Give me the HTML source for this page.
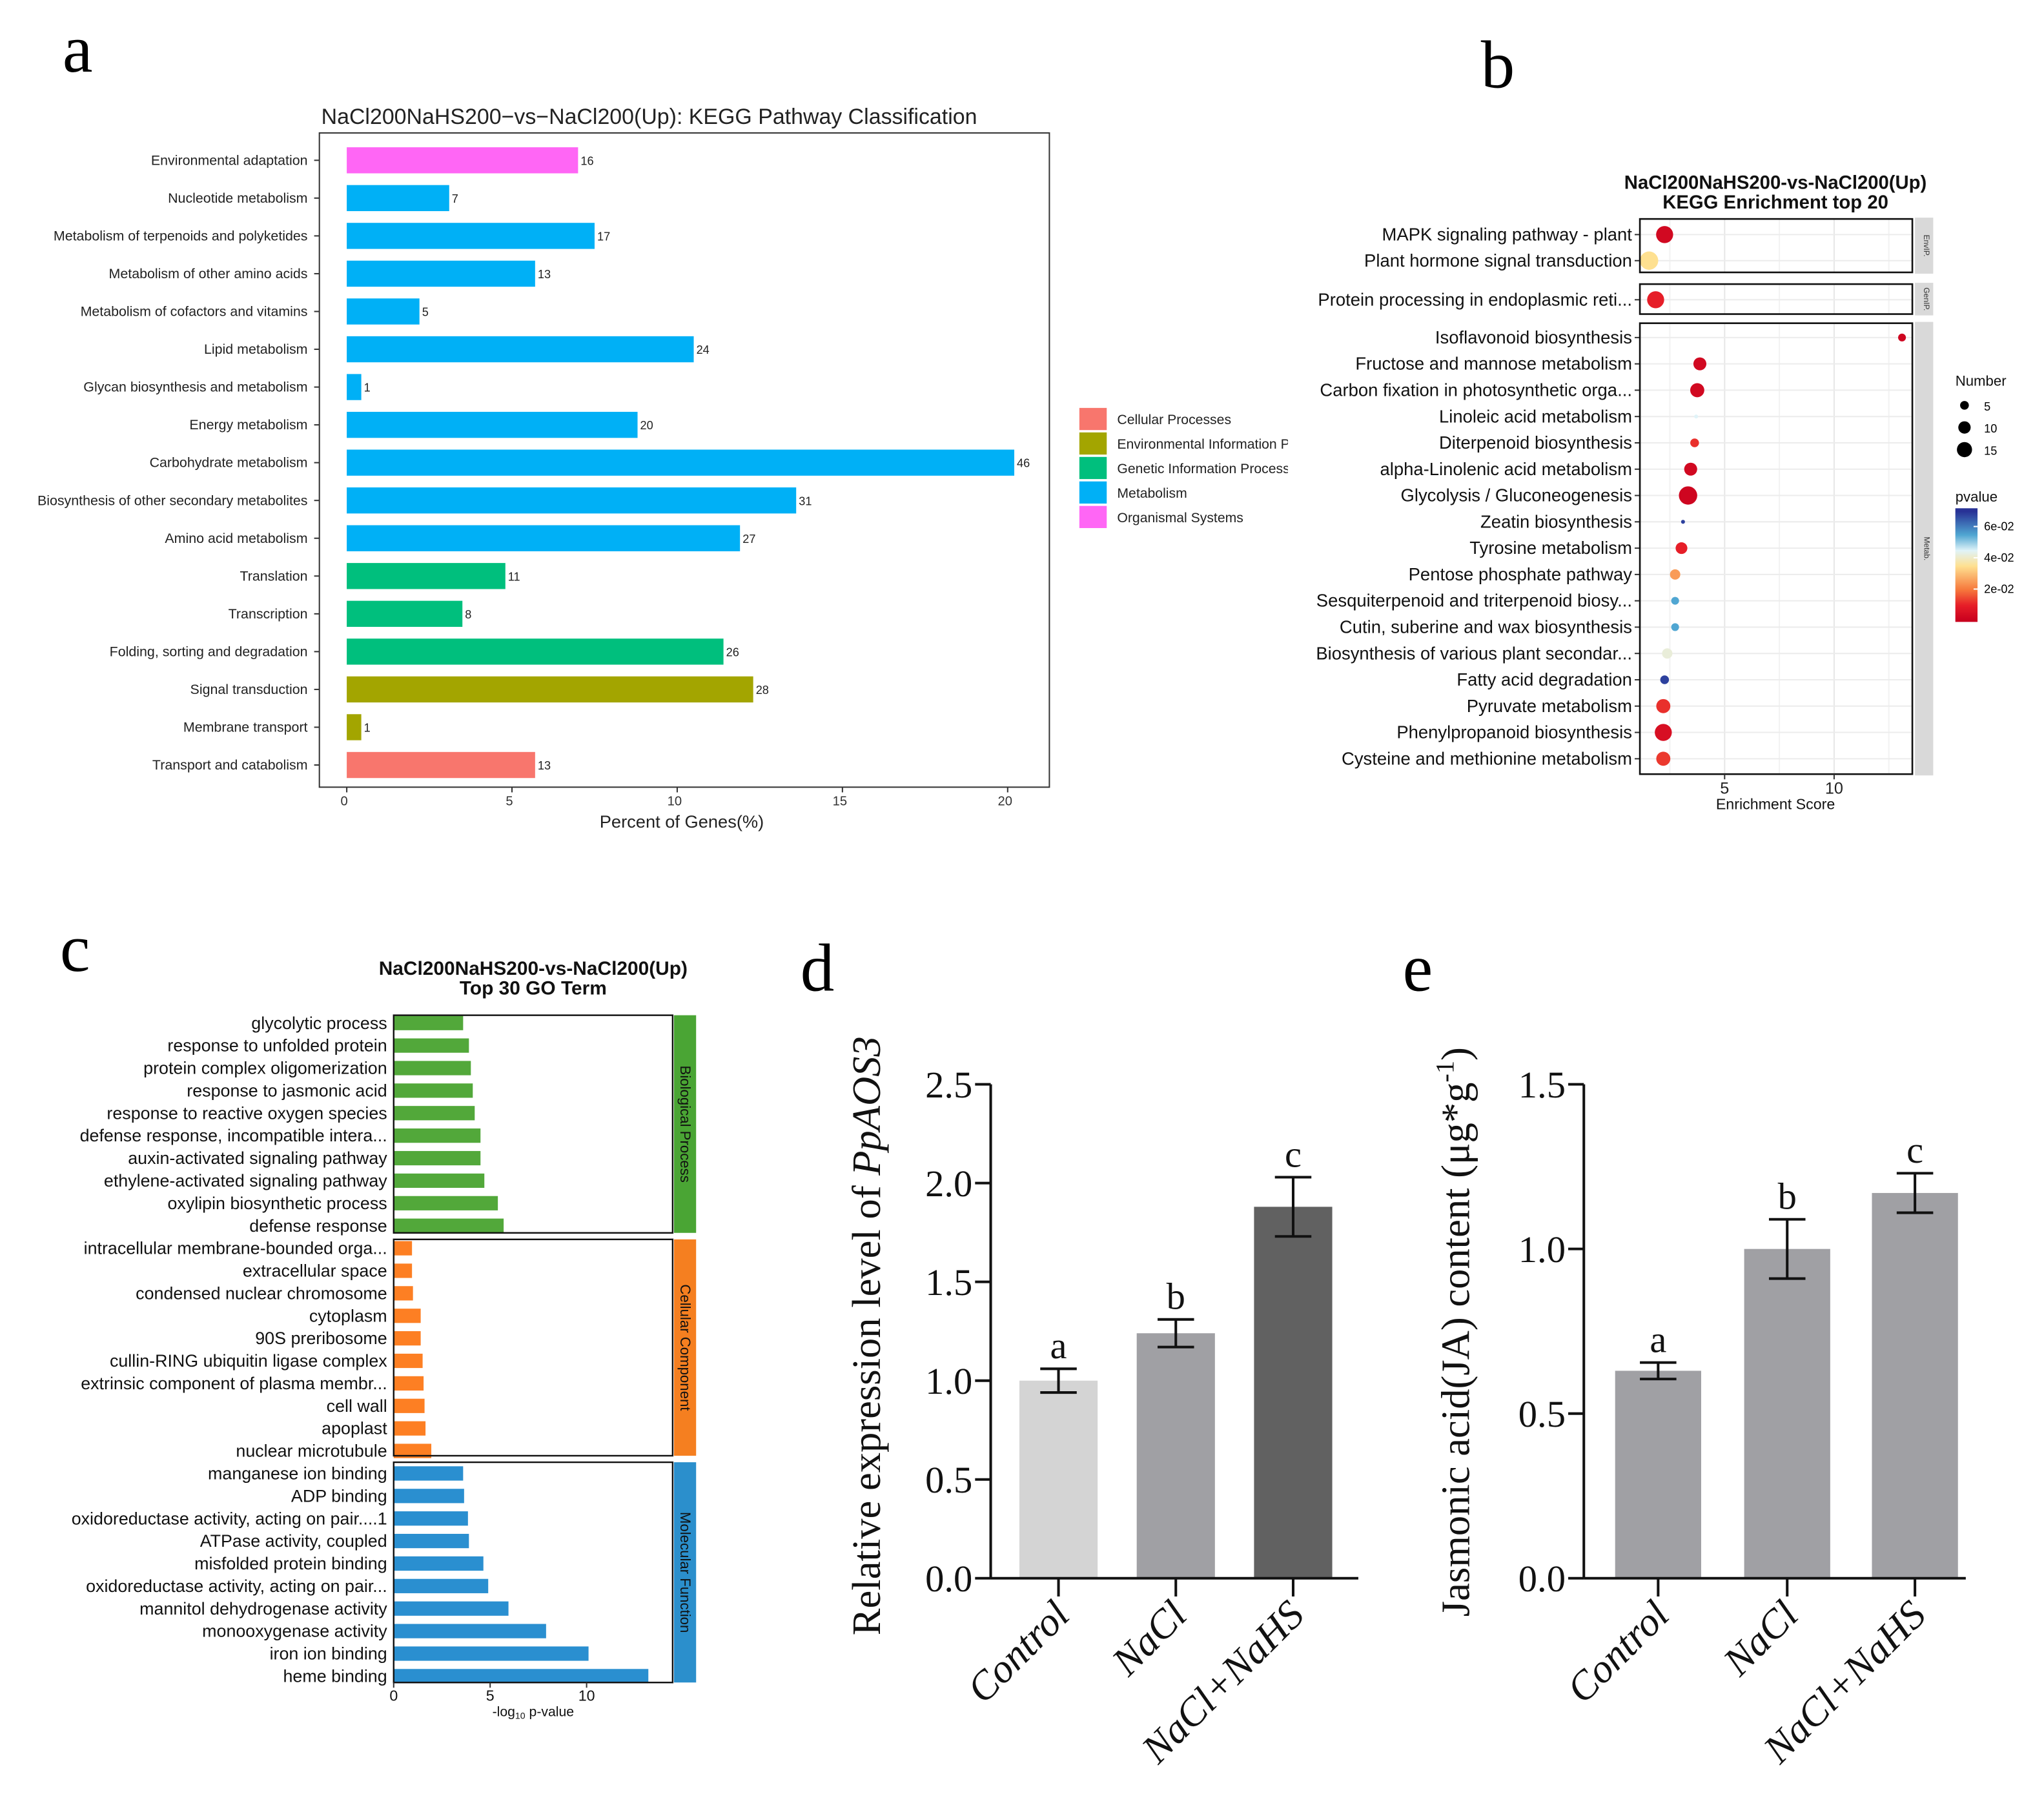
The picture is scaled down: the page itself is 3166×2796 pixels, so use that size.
<!DOCTYPE html>
<html><head><meta charset="utf-8">
<style>
html,body{margin:0;padding:0;background:#fff;}
svg{display:block;}
.s{font-family:"Liberation Sans","DejaVu Sans",sans-serif;}
.r{font-family:"Liberation Serif",serif;}
</style></head>
<body>
<svg id="fig" width="3166" height="2796" viewBox="0 0 1568 1385" preserveAspectRatio="none" xmlns="http://www.w3.org/2000/svg">
<rect width="1568" height="1385" fill="#fff"/>
<text class="r" x="48" y="55" font-size="52">a</text>
<text class="r" x="1136" y="67" font-size="52">b</text>
<text class="r" x="46" y="745" font-size="52">c</text>
<text class="r" x="614" y="760" font-size="52">d</text>
<text class="r" x="1076" y="760" font-size="52">e</text>
</svg>
<script>
const NS="http://www.w3.org/2000/svg";
const svg=document.getElementById('fig');
function mk(tag,attrs,parent,text){const e=document.createElementNS(NS,tag);for(const k in attrs)e.setAttribute(k,attrs[k]);if(text!==undefined)e.textContent=text;(parent||svg).appendChild(e);return e;}

/* ---------- Panel a data ---------- */
const aCategories=["Environmental adaptation","Nucleotide metabolism","Metabolism of terpenoids and polyketides","Metabolism of other amino acids","Metabolism of cofactors and vitamins","Lipid metabolism","Glycan biosynthesis and metabolism","Energy metabolism","Carbohydrate metabolism","Biosynthesis of other secondary metabolites","Amino acid metabolism","Translation","Transcription","Folding, sorting and degradation","Signal transduction","Membrane transport","Transport and catabolism"];
const aPercent=[7.0,3.1,7.5,5.7,2.2,10.5,0.44,8.8,20.2,13.6,11.9,4.8,3.5,11.4,12.3,0.44,5.7];
const aCounts=[16,7,17,13,5,24,1,20,46,31,27,11,8,26,28,1,13];
const aGroup=["Organismal Systems","Metabolism","Metabolism","Metabolism","Metabolism","Metabolism","Metabolism","Metabolism","Metabolism","Metabolism","Metabolism","Genetic Information Processing","Genetic Information Processing","Genetic Information Processing","Environmental Information Processing","Environmental Information Processing","Cellular Processes"];
const aLegend=["Cellular Processes","Environmental Information Processing","Genetic Information Processing","Metabolism","Organismal Systems"];
const aTicks=[0,5,10,15,20];
const aColors={"Cellular Processes":"#f8766d","Environmental Information Processing":"#a3a500","Genetic Information Processing":"#00bf7d","Metabolism":"#00b0f6","Organismal Systems":"#ff66f5"};
(function(){
 const g=mk('g',{});
 const x=v=>266+v*25.35, y=i=>123+i*29;
 mk('text',{x:498,y:95,'font-size':16.8,'text-anchor':'middle',class:'s',fill:'#222'},g,'NaCl200NaHS200−vs−NaCl200(Up): KEGG Pathway Classification');
 mk('rect',{x:245,y:102,width:560,height:502,fill:'none',stroke:'#333','stroke-width':1},g);
 aCategories.forEach((c,i)=>{
  const b=mk('rect',{x:x(0),y:y(i)-10,width:x(aPercent[i])-x(0),height:20,fill:aColors[aGroup[i]]},g);
  
  
  mk('text',{x:x(aPercent[i])+2,y:y(i)+3.5,'font-size':9,class:'s',fill:'#222'},g,aCounts[i]);
  mk('line',{x1:241,x2:245,y1:y(i),y2:y(i),stroke:'#333'},g);
  mk('text',{x:236,y:y(i)+3.5,'font-size':10.6,'text-anchor':'end',class:'s',fill:'#222'},g,c);
 });
 aTicks.forEach(t=>{mk('line',{x1:x(t),x2:x(t),y1:604,y2:608,stroke:'#333'},g);mk('text',{x:x(t)-2,y:618,'font-size':10,'text-anchor':'middle',class:'s',fill:'#333'},g,t);});
 const xt=mk('text',{x:523,y:635,'font-size':13.5,'text-anchor':'middle',class:'s',fill:'#222'},g,'Percent of Genes(%)');
 
 const lg=mk('g',{},g);
 const clip=mk('clipPath',{id:'clipA'},svg);mk('rect',{x:820,y:300,width:168,height:120},clip);
 aLegend.forEach((l,i)=>{const yy=313+i*18.8;
  const e=mk('g',{'clip-path':'url(#clipA)'},lg);
  mk('rect',{x:828,y:yy,width:21,height:17,fill:aColors[l]},e);
  mk('text',{x:857,y:yy+12.5,'font-size':10.5,class:'s',fill:'#222'},e,l);});
})();

/* ---------- Panel b data ---------- */
const bCategories=["MAPK signaling pathway - plant","Plant hormone signal transduction","Protein processing in endoplasmic reti...","Isoflavonoid biosynthesis","Fructose and mannose metabolism","Carbon fixation in photosynthetic orga...","Linoleic acid metabolism","Diterpenoid biosynthesis","alpha-Linolenic acid metabolism","Glycolysis / Gluconeogenesis","Zeatin biosynthesis","Tyrosine metabolism","Pentose phosphate pathway","Sesquiterpenoid and triterpenoid biosy...","Cutin, suberine and wax biosynthesis","Biosynthesis of various plant secondar...","Fatty acid degradation","Pyruvate metabolism","Phenylpropanoid biosynthesis","Cysteine and methionine metabolism"];
const bScore=[2.26,1.55,1.85,13.1,3.87,3.75,3.7,3.63,3.45,3.33,3.1,3.03,2.74,2.74,2.74,2.38,2.26,2.2,2.2,2.2];
const bNumber=[19,22,19,4,11,13,1,5,11,22,1,9,7,4,4,7,5,13,19,13];
const bPvalue=[0.003,0.035,0.01,0.002,0.003,0.003,0.045,0.012,0.003,0.002,0.068,0.01,0.025,0.055,0.055,0.042,0.068,0.012,0.005,0.013];
const bTicks=[5,10];
const bSizeLegend=[5,10,15];
const bColorTicks=[0.06,0.04,0.02];
(function(){
 const g=mk('g',{});
 const x=v=>1323+(v-5)*16.8;
 const rowY=[180,200,230]; for(let i=3;i<20;i++)rowY.push(259+(i-3)*20.2);
 const stops=[[0,[200,0,30]],[0.01,[230,30,40]],[0.02,[246,120,60]],[0.035,[254,224,144]],[0.045,[224,243,248]],[0.055,[80,166,210]],[0.07,[40,50,150]]];
 function col(p){for(let i=1;i<stops.length;i++){if(p<=stops[i][0]){const a=stops[i-1],b=stops[i],t=(p-a[0])/(b[0]-a[0]);return 'rgb('+a[1].map((v,k)=>Math.round(v+(b[1][k]-v)*t)).join(',')+')';}}return 'rgb(40,50,150)';}
 const r=n=>Math.sqrt(n)*1.5;
 mk('text',{x:1362,y:145,'font-size':14.5,'font-weight':'bold','text-anchor':'middle',class:'s',fill:'#111'},g,'NaCl200NaHS200-vs-NaCl200(Up)');
 mk('text',{x:1362,y:160,'font-size':14.5,'font-weight':'bold','text-anchor':'middle',class:'s',fill:'#111'},g,'KEGG Enrichment top 20');
 const facets=[[168,209,'EnvIP.'],[218,241,'GenIP.'],[248,594,'Metab.']];
 facets.forEach(f=>{
  mk('rect',{x:1258,y:f[0],width:209,height:f[1]-f[0],fill:'#fff'},g);
  [2.5,5,7.5,10,12.5].forEach(t=>mk('line',{x1:x(t),x2:x(t),y1:f[0],y2:f[1],stroke:t%5?'#f2f2f2':'#e6e6e6'},g));
  mk('rect',{x:1469,y:f[0]-1,width:14,height:f[1]-f[0]+2,fill:'#d9d9d9'},g);
  mk('text',{x:1476,y:(f[0]+f[1])/2,'font-size':6,class:'s','text-anchor':'middle',transform:'rotate(90 1476 '+(f[0]+f[1])/2+')',fill:'#333'},g,f[2]);
 });
 rowY.forEach(yy=>mk('line',{x1:1258,x2:1467,y1:yy,y2:yy,stroke:'#ececec'},g));
 bCategories.forEach((c,i)=>{
  mk('text',{x:1252,y:rowY[i]+4.5,'font-size':13.6,'text-anchor':'end',class:'s',fill:'#111'},g,c);
  mk('line',{x1:1254,x2:1258,y1:rowY[i],y2:rowY[i],stroke:'#333'},g);
  const d=mk('circle',{cx:x(bScore[i]),cy:rowY[i],r:r(bNumber[i]),fill:col(bPvalue[i])},g);
  
  
 });
 facets.forEach(f=>mk('rect',{x:1258,y:f[0],width:209,height:f[1]-f[0],fill:'none',stroke:'#111','stroke-width':1.3},g));
 bTicks.forEach(t=>{mk('line',{x1:x(t),x2:x(t),y1:594,y2:598,stroke:'#333'},g);mk('text',{x:x(t),y:609,'font-size':12.5,'text-anchor':'middle',class:'s',fill:'#222'},g,t);});
 mk('text',{x:1362,y:621,'font-size':11.5,'text-anchor':'middle',class:'s',fill:'#111'},g,'Enrichment Score');
 const lg=mk('g',{},g);
 mk('text',{x:1500,y:296,'font-size':11,class:'s',fill:'#111'},lg,'Number');
 bSizeLegend.forEach((n,i)=>{mk('circle',{cx:1507,cy:311+i*17,r:r(n),fill:'#000'},lg);mk('text',{x:1522,y:315+i*17,'font-size':9,class:'s'},lg,n);});
 const cl=mk('g',{},g);
 mk('text',{x:1500,y:385,'font-size':11,class:'s',fill:'#111'},cl,'pvalue');
 const cy=p=>452-(p-0.02)*1200;
 for(let yy=390;yy<477;yy++){const p=0.02+(452-yy)/1200;mk('rect',{x:1500,y:yy,width:17,height:1.2,fill:col(Math.max(0,p))},cl);}
 bColorTicks.forEach(p=>{mk('line',{x1:1514,x2:1517,y1:cy(p),y2:cy(p),stroke:'#fff'},cl);mk('text',{x:1522,y:cy(p)+3,'font-size':9,class:'s'},cl,p.toExponential(0).replace('e-','e-0'));});
})();

/* ---------- Panel c data ---------- */
const cTerms=["glycolytic process","response to unfolded protein","protein complex oligomerization","response to jasmonic acid","response to reactive oxygen species","defense response, incompatible intera...","auxin-activated signaling pathway","ethylene-activated signaling pathway","oxylipin biosynthetic process","defense response","intracellular membrane-bounded orga...","extracellular space","condensed nuclear chromosome","cytoplasm","90S preribosome","cullin-RING ubiquitin ligase complex","extrinsic component of plasma membr...","cell wall","apoplast","nuclear microtubule","manganese ion binding","ADP binding","oxidoreductase activity, acting on pair....1","ATPase activity, coupled","misfolded protein binding","oxidoreductase activity, acting on pair...","mannitol dehydrogenase activity","monooxygenase activity","iron ion binding","heme binding"];
const cValues=[3.6,3.9,4.0,4.1,4.2,4.5,4.5,4.7,5.4,5.7,0.95,0.95,1.0,1.4,1.4,1.5,1.55,1.6,1.65,1.95,3.6,3.65,3.85,3.9,4.65,4.9,5.95,7.9,10.1,13.2];
const cTicks=[0,5,10];
(function(){
 const g=mk('g',{});
 const x=v=>302+v*14.8, y=i=>785+i*17.28;
 mk('text',{x:409,y:748,'font-size':14.8,'font-weight':'bold','text-anchor':'middle',class:'s',fill:'#111'},g,'NaCl200NaHS200-vs-NaCl200(Up)');
 mk('text',{x:409,y:763,'font-size':14.8,'font-weight':'bold','text-anchor':'middle',class:'s',fill:'#111'},g,'Top 30 GO Term');
 const facets=[[779,946,'#4aa534','Biological Process','#52a83a'],[951,1117,'#f57f20','Cellular Component','#fd7f23'],[1122,1291,'#2b8fcc','Molecular Function','#2a8fd0']];
 cTerms.forEach((t,i)=>{
  const f=facets[Math.floor(i/10)];
  const b=mk('rect',{x:x(0),y:y(i)-5.5,width:x(cValues[i])-x(0),height:11,fill:f[4]},g);
  
  
  mk('text',{x:297,y:y(i)+4.5,'font-size':13.3,'text-anchor':'end',class:'s',fill:'#111'},g,t);
 });
 facets.forEach(f=>{
  mk('rect',{x:302,y:f[0],width:214,height:f[1]-f[0],fill:'none',stroke:'#111','stroke-width':1.2},g);
  mk('rect',{x:517,y:f[0],width:17,height:f[1]-f[0],fill:f[2]},g);
  const cyy=(f[0]+f[1])/2;
  mk('text',{x:522,y:cyy,'font-size':11,class:'s','text-anchor':'middle',transform:'rotate(90 522 '+cyy+')',fill:'#111'},g,f[3]);
 });
 cTicks.forEach(t=>{mk('line',{x1:x(t),x2:x(t),y1:1291,y2:1295,stroke:'#333'},g);mk('text',{x:x(t),y:1305,'font-size':11.5,'text-anchor':'middle',class:'s',fill:'#111'},g,t);});
 const xt=mk('text',{x:409,y:1317,'font-size':10.5,'text-anchor':'middle',class:'s',fill:'#111'},g);
 
 xt.innerHTML='-log<tspan font-size="7" dy="2">10</tspan><tspan dy="-2"> p-value</tspan>';
})();

/* ---------- Panel d / e data ---------- */
const dCategories=["Control","NaCl","NaCl+NaHS"];
const dValues=[1.0,1.24,1.88];
const dErrors=[0.06,0.07,0.15];
const dLetters=["a","b","c"];
const dTicks=[0,0.5,1.0,1.5,2.0,2.5];
const eCategories=["Control","NaCl","NaCl+NaHS"];
const eValues=[0.63,1.0,1.17];
const eErrors=[0.025,0.09,0.06];
const eLetters=["a","b","c"];
const eTicks=[0,0.5,1.0,1.5];
function barPanel(name,ax,axEnd,ymax,cats,vals,errs,letters,ticks,colors,centers,bw){
 const g=mk('g',{});
 const y0=1211,ytop=832,y=v=>y0-(v/ymax)*(y0-ytop);
 cats.forEach((c,i)=>{
  const b=mk('rect',{x:centers[i]-bw/2,y:y(vals[i]),width:bw,height:y0-y(vals[i]),fill:colors[i]},g);
  
  
  const e=mk('g',{stroke:'#111','stroke-width':2},g);
  
  
  mk('line',{x1:centers[i],x2:centers[i],y1:y(vals[i]+errs[i]),y2:y(vals[i]-errs[i])},e);
  mk('line',{x1:centers[i]-14,x2:centers[i]+14,y1:y(vals[i]+errs[i]),y2:y(vals[i]+errs[i])},e);
  mk('line',{x1:centers[i]-14,x2:centers[i]+14,y1:y(vals[i]-errs[i]),y2:y(vals[i]-errs[i])},e);
  mk('text',{x:centers[i],y:y(vals[i]+errs[i])-8,'font-size':29,'text-anchor':'middle',class:'r',fill:'#111'},g,letters[i]);
  mk('line',{x1:centers[i],x2:centers[i],y1:y0,y2:y0+14,stroke:'#111','stroke-width':2},g);
  const lx=centers[i]+10,ly=y0+30;
  mk('text',{x:lx,y:ly,'font-size':31,'font-style':'italic','text-anchor':'end',class:'r',fill:'#111',transform:'rotate(-45 '+lx+' '+ly+')'},g,c);
 });
 mk('line',{x1:ax,x2:ax,y1:ytop,y2:y0,stroke:'#111','stroke-width':2},g);
 mk('line',{x1:ax,x2:axEnd,y1:y0,y2:y0,stroke:'#111','stroke-width':2},g);
 ticks.forEach(t=>{mk('line',{x1:ax-12,x2:ax,y1:y(t),y2:y(t),stroke:'#111','stroke-width':2},g);
  mk('text',{x:ax-14,y:y(t)+10,'font-size':29,'text-anchor':'end',class:'r',fill:'#111'},g,t.toFixed(1));});
 return g;
}
const gd=barPanel('expression-bar-chart',760,1042,2.5,dCategories,dValues,dErrors,dLetters,dTicks,['#d4d4d4','#a0a0a4','#616161'],[812,902,992],60);
const yd=mk('text',{x:675,y:1025,'font-size':31,'text-anchor':'middle',class:'r',fill:'#111',transform:'rotate(-90 675 1025)'},gd);

yd.innerHTML='Relative expression level of <tspan font-style="italic">PpAOS3</tspan>';
const ge=barPanel('jasmonic-acid-bar-chart',1215,1508,1.5,eCategories,eValues,eErrors,eLetters,eTicks,['#a0a0a4','#a0a0a4','#a0a0a4'],[1272,1371,1469],66);
const ye=mk('text',{x:1127,y:1022,'font-size':31,'text-anchor':'middle',class:'r',fill:'#111',transform:'rotate(-90 1127 1022)'},ge);

ye.innerHTML='Jasmonic acid(JA) content (μg*g<tspan font-size="20" dy="-12">-1</tspan><tspan dy="12">)</tspan>';
</script>
</body></html>
